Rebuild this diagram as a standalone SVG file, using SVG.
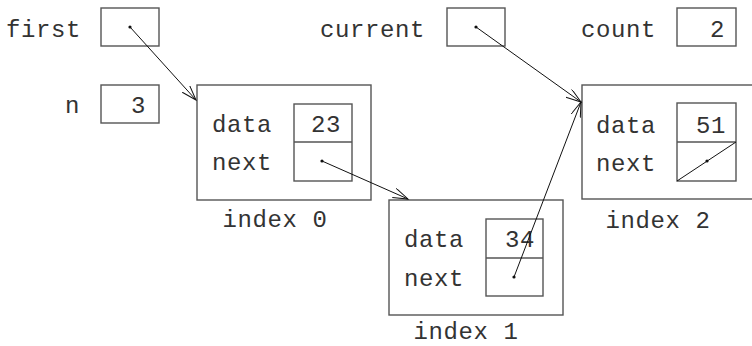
<svg xmlns="http://www.w3.org/2000/svg" width="752" height="346" viewBox="0 0 752 346">
<style>
text{font-family:"Liberation Mono","DejaVu Sans Mono",monospace;font-size:24px;letter-spacing:0.6px;fill:#333}
.e{text-anchor:end}
.m{text-anchor:middle}
.box{fill:none;stroke:#555;stroke-width:1.4}
.ln{fill:none;stroke:#111;stroke-width:1}
.dot{fill:#111}
</style>
<defs>
<marker id="ah" markerUnits="userSpaceOnUse" markerWidth="20" markerHeight="14" refX="15" refY="5" orient="auto" viewBox="0 0 20 14">
<path d="M0,0 L15,5 L0,10" fill="none" stroke="#111" stroke-width="1"/>
</marker>
</defs>
<rect width="752" height="346" fill="#fff"/>
<g id="var-first">
<text x="6" y="37">first</text>
<rect class="box" x="101" y="8" width="58" height="38"/>
<circle class="dot" cx="130" cy="27" r="1.6"/>
</g>
<g id="var-n">
<text class="e" x="80" y="113">n</text>
<rect class="box" x="101" y="85" width="58" height="38"/>
<text class="e" x="146" y="113">3</text>
</g>
<g id="var-current">
<text x="320" y="37">current</text>
<rect class="box" x="447" y="8" width="58" height="38"/>
<circle class="dot" cx="476" cy="27" r="1.6"/>
</g>
<g id="var-count">
<text x="581" y="37">count</text>
<rect class="box" x="677" y="8" width="59" height="38"/>
<text class="e" x="725" y="37">2</text>
</g>
<g id="node0">
<rect class="box" x="197" y="85" width="174" height="115"/>
<text x="212" y="132">data</text>
<text x="212" y="170">next</text>
<rect class="box" x="294" y="104" width="58" height="77"/>
<line class="box" x1="294" y1="142" x2="352" y2="142"/>
<text class="e" x="341" y="132">23</text>
<circle class="dot" cx="322" cy="161" r="1.6"/>
<text class="m" x="275" y="227">index 0</text>
</g>
<g id="node1">
<rect class="box" x="389" y="200" width="174" height="115"/>
<text x="404" y="247">data</text>
<text x="404" y="286">next</text>
<rect class="box" x="486" y="219" width="57" height="77"/>
<line class="box" x1="486" y1="258" x2="543" y2="258"/>
<text class="e" x="535" y="247">34</text>
<circle class="dot" cx="514" cy="277" r="1.6"/>
<text class="m" x="466" y="339">index 1</text>
</g>
<g id="node2">
<rect class="box" x="582" y="85" width="180" height="114"/>
<text x="596" y="133">data</text>
<text x="596" y="171">next</text>
<rect class="box" x="677" y="103" width="59" height="78"/>
<line class="box" x1="677" y1="142" x2="736" y2="142"/>
<line class="ln" x1="677" y1="181" x2="736" y2="142"/>
<text class="e" x="726" y="133">51</text>
<circle class="dot" cx="707" cy="161" r="1.6"/>
<text class="m" x="658" y="228">index 2</text>
</g>
<g id="connectors">
<line class="ln" x1="130" y1="27" x2="196" y2="100" marker-end="url(#ah)"/>
<line class="ln" x1="476" y1="27" x2="581" y2="102" marker-end="url(#ah)"/>
<line class="ln" x1="322" y1="161" x2="408" y2="199" marker-end="url(#ah)"/>
<line class="ln" x1="514" y1="277" x2="581" y2="102" marker-end="url(#ah)"/>
</g>
</svg>
